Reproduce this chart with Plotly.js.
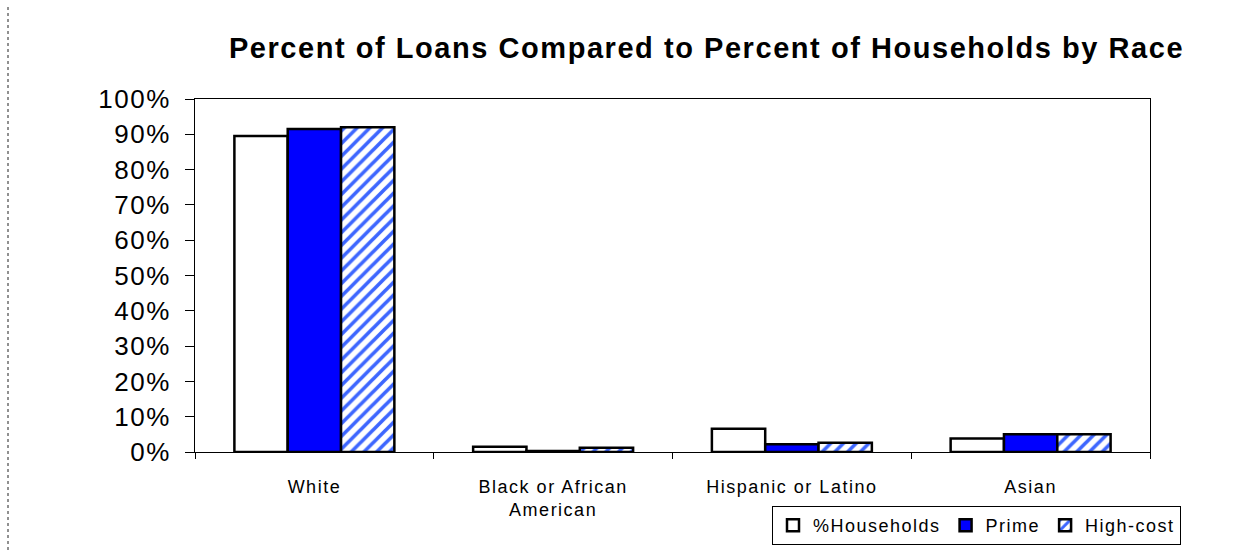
<!DOCTYPE html>
<html><head><meta charset="utf-8">
<script src="https://cdn.plot.ly/plotly-3.0.1.min.js"></script>
<style>
body{margin:0;background:#fff}#c{width:1257px;height:550px}
text{letter-spacing:1.5px}
.main-svg .gtitle{letter-spacing:1.55px}
</style>
</head><body><div id="c"></div>
<script>
const categories = ["White", "Black or African<br>American", "Hispanic or Latino", "Asian"];
const households = [89.5, 1.5, 6.6, 3.8];
const prime = [91.5, 0.3, 2.2, 5.0];
const highCost = [92.0, 1.2, 2.6, 5.0];
const yTicks = [0,10,20,30,40,50,60,70,80,90,100];

const line = {color:'#000', width:2.5};
const traces = [
  {type:'bar', name:'%Households', x:categories, y:households, marker:{color:'#fff', line:line}},
  {type:'bar', name:'Prime', x:categories, y:prime, marker:{color:'#0000ff', line:line}},
  {type:'bar', name:'High-cost', x:categories, y:highCost,
   marker:{color:'#fff', line:line, pattern:{shape:'/', fgcolor:'#3d66ff', bgcolor:'#fff', size:9, solidity:0.4}}}
];
const L = 195, R = 1150, T = 99, B = 452;
const layout = {
  width:1257, height:550,
  margin:{l:L, r:1257-R, t:T, b:550-B},
  paper_bgcolor:'#fff', plot_bgcolor:'#fff',
  font:{family:'Liberation Sans, Arial, sans-serif', color:'#000'},
  title:{text:'<b>Percent of Loans Compared to Percent of Households by Race</b>',
         xref:'container', x:706.5/1257, xanchor:'center', yref:'container', y:(550-48)/550, yanchor:'middle',
         font:{size:29, color:'#000'}},
  barmode:'group', bargap:0.33, bargroupgap:0,
  showlegend:true,
  legend:{orientation:'h', xref:'container', yref:'container', x:772/1257, xanchor:'left', y:(550-506)/550, yanchor:'top',
          bordercolor:'#000', borderwidth:1, font:{size:18}, bgcolor:'#fff'},
  xaxis:{showline:true, linecolor:'#000', linewidth:1, mirror:true, automargin:false,
         ticks:'outside', tickson:'boundaries', ticklen:6, tickcolor:'#000',
         tickfont:{size:18}, showgrid:false, ticklabelstandoff:18},
  yaxis:{range:[0,100], tickvals:yTicks, ticktext:yTicks.map(v=>v+'%'), automargin:false,
         showline:true, linecolor:'#000', linewidth:1, mirror:true,
         ticks:'outside', ticklen:9, tickcolor:'#000', tickfont:{size:26},
         showgrid:false, zeroline:false, ticklabelstandoff:9},
  shapes:[
    {type:'line', xref:'paper', yref:'paper', x0:(8-L)/(R-L), x1:(8-L)/(R-L), y0:(B-7)/(B-T), y1:(B-550)/(B-T),
     line:{color:'#222', width:1, dash:'dot'}}
  ]
};
Plotly.newPlot('c', traces, layout, {displayModeBar:false});
</script></body></html>
